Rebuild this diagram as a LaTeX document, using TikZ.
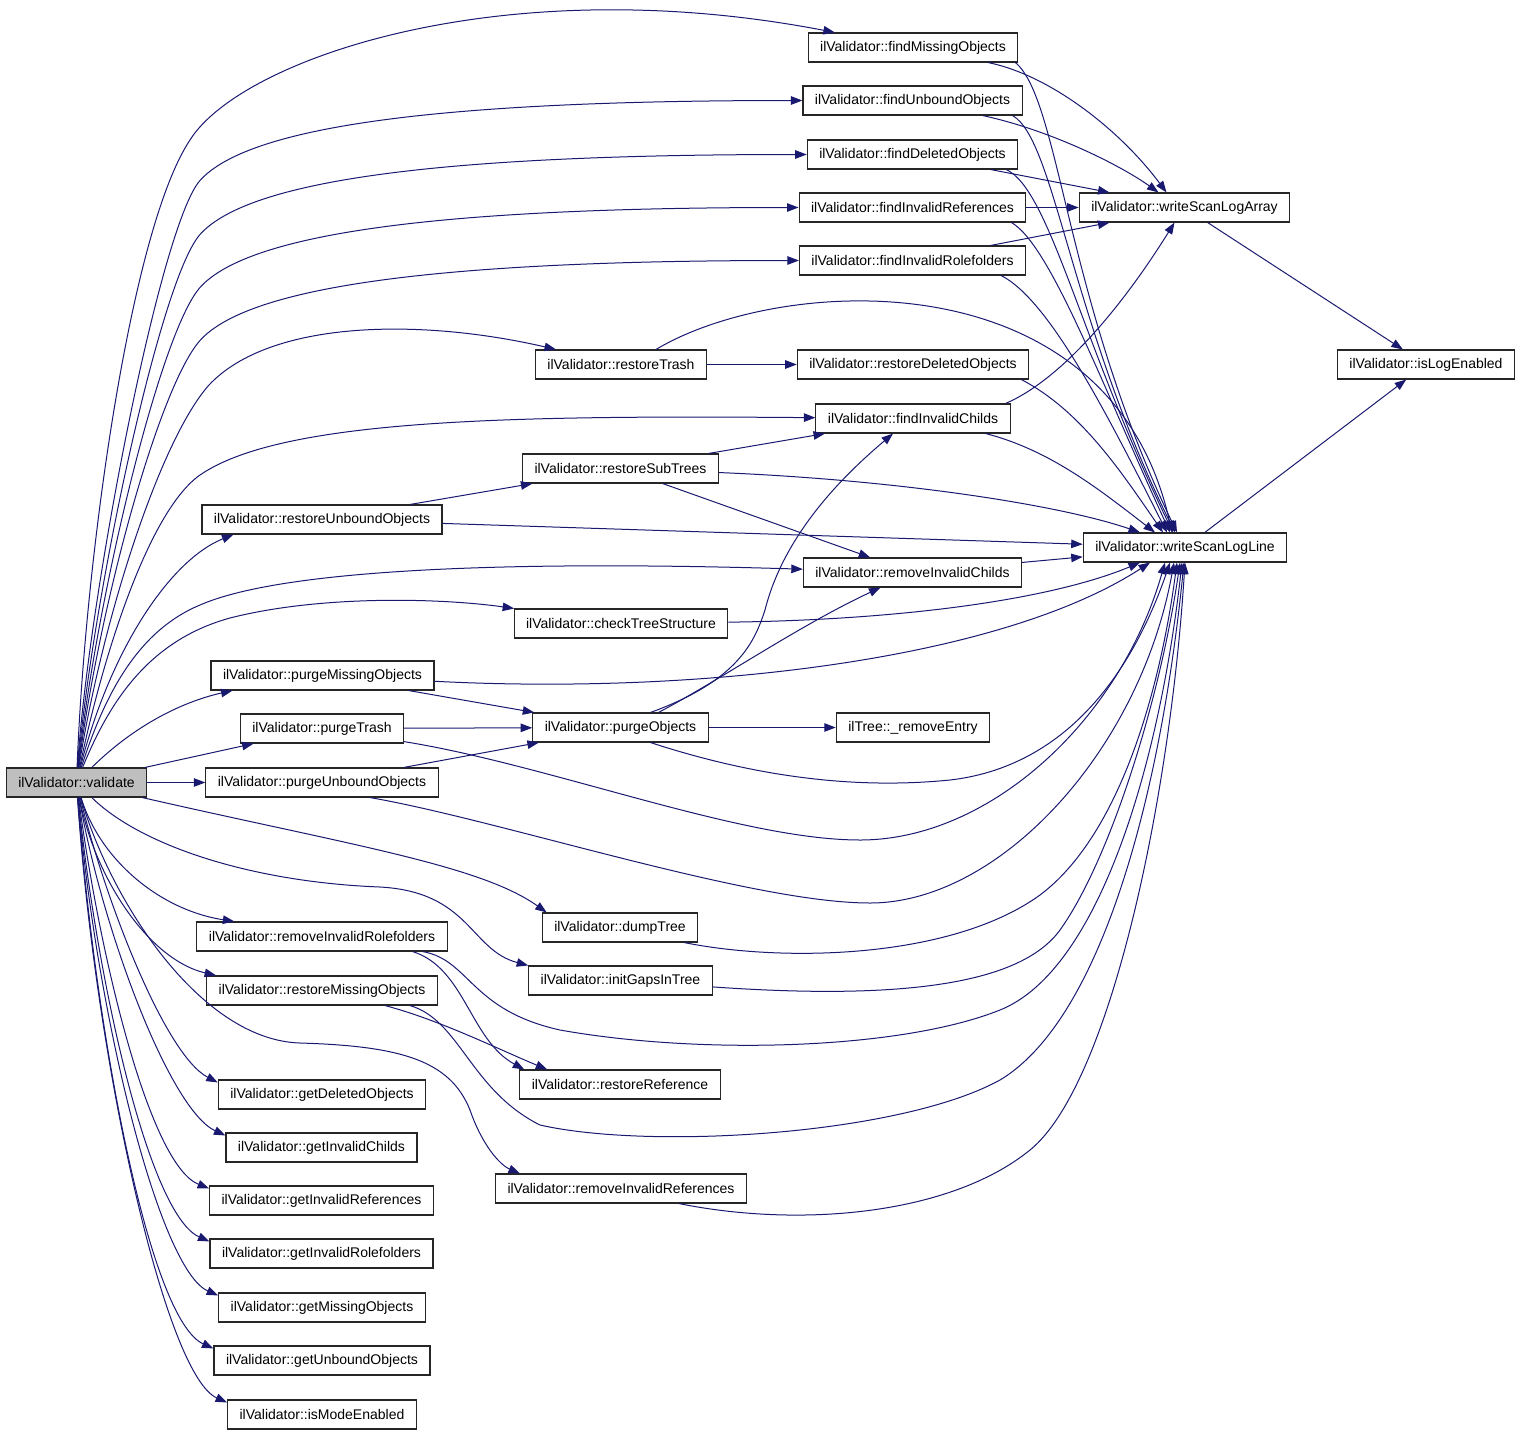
\documentclass[tikz,border=0pt]{standalone}
\usepackage{fontspec}
\setmainfont{Liberation Sans}
\usetikzlibrary{arrows.meta}
\definecolor{edgeblue}{HTML}{191970}
\definecolor{valgray}{HTML}{BFBFBF}
\tikzset{
  box/.style={draw=black!85, line width=1.1pt, fill=white, minimum height=29pt,
    inner xsep=12pt, inner ysep=0pt, font=\fontsize{14}{16}\selectfont},
  call/.style={draw=edgeblue, line width=1pt, -{Triangle[length=11.5pt,width=8.5pt]}},
}

\begin{document}
\begin{tikzpicture}[x=1pt,y=-1pt]
\useasboundingbox (0,0) rectangle (1520,1435);
\node[box, fill=valgray] (val) at (76.5,782.5) {ilValidator::validate};
\foreach \nm/\lbl/\x/\y in {
    fmo/findMissingObjects/913/47.5, fuo/findUnboundObjects/912.5/100.5,
    fdo/findDeletedObjects/912.5/154.5, fir/findInvalidReferences/912.5/207.5,
    firf/findInvalidRolefolders/912.5/260.5, wsla/writeScanLogArray/1184.5/207.5,
    ile/isLogEnabled/1426/364.5, rtr/restoreTrash/621/364.5,
    rdo/restoreDeletedObjects/913/364.5, fic/findInvalidChilds/913/418.5,
    rst/restoreSubTrees/620.5/468.5, ruo/restoreUnboundObjects/322/519.5,
    wsll/writeScanLogLine/1185/547.5, ric/removeInvalidChilds/912.5/572.5,
    cts/checkTreeStructure/621/623.5, pmo/purgeMissingObjects/322.5/675.5,
    ptr/purgeTrash/322/728.5, po/purgeObjects/620.5/727.5,
    puo/purgeUnboundObjects/322/782.5, dump/dumpTree/620/927.5,
    rirf/removeInvalidRolefolders/322/936.5, igt/initGapsInTree/620.5/980.5,
    rmo/restoreMissingObjects/322/990.5, rr/restoreReference/620/1084.5,
    gdo/getDeletedObjects/322/1094.5, gic/getInvalidChilds/321.5/1147.5,
    rir/removeInvalidReferences/621/1188.5, gir/getInvalidReferences/321.5/1200.5,
    girf/getInvalidRolefolders/321.5/1253.5, gmo/getMissingObjects/322/1307.5,
    guo/getUnboundObjects/322/1360.5, ime/isModeEnabled/322/1414.5}
  \node[box] (\nm) at (\x,\y) {ilValidator::\lbl};
\node[box] (tre) at (913,727.5) {ilTree::\_removeEntry};

\draw[call] (val) .. controls (85,560) and (130,230) .. (190,140) .. controls (240,60) and (500,-32) .. (fmo);
\foreach \nm/\ty/\cx in {fuo/100.5/88, fdo/154.5/92, fir/207.5/96, firf/260.5/100}
  \draw[call] (val) .. controls (\cx,600) and (160,\ty+125) .. (200,\ty+80) .. controls (250,\ty+24) and (450,\ty) .. (\nm);
\draw[call] (val) .. controls (102,620) and (160,440) .. (209,385) .. controls (270,320) and (420,318) .. (rtr);
\draw[call] (val) .. controls (104,650) and (150,510) .. (200,475) .. controls (280,420) and (500,415) .. (fic);
\draw[call] (val) .. controls (110,650) and (170,560) .. ([xshift=32pt]ruo.south west);
\draw[call] (val) .. controls (106,690) and (140,630) .. (200,605) .. controls (280,570) and (500,560) .. (ric);
\draw[call] (val) .. controls (110,700) and (150,640) .. (230,618) .. controls (320,595) and (440,598) .. (cts);
\draw[call] (val) .. controls (140,720) and (190,700) .. ([xshift=22pt]pmo.south west);
\draw[call] (val) -- (ptr);
\draw[call] (val) -- (puo);
\draw[call] (val) .. controls (350,845) and (480,865) .. ([xshift=5pt]dump.north west);
\draw[call] (val) .. controls (100,860) and (160,910) .. ([xshift=38pt]rirf.north west);
\draw[call] (val) .. controls (140,845) and (250,882) .. (380,887) .. controls (470,892) and (470,950) .. (igt.north west);
\draw[call] (val) .. controls (95,880) and (150,960) .. ([xshift=10pt]rmo.north west);
\draw[call] (val) .. controls (110,900) and (200,1040) .. (300,1043) .. controls (400,1046) and (450,1060) .. (470,1110) .. controls (482,1145) and (500,1165) .. ([xshift=25pt]rir.north west);
\foreach \nm/\ax/\ay/\bx/\by in {gdo/105/900/165/1055, gic/102/930/170/1110, gir/100/960/150/1165,
    girf/98/990/150/1215, gmo/97/1020/160/1270, guo/96/1040/150/1320, ime/95/1060/165/1375}
  \draw[call] (val) .. controls (\ax,\ay) and (\bx,\by) .. ([yshift=-3pt]\nm.north west);

\draw[call] (fmo) .. controls (1050,75) and (1120,130) .. ([xshift=-18pt]wsla.north);
\draw[call] (fuo) .. controls (1050,130) and (1120,165) .. ([xshift=-26pt]wsla.north);
\draw[call] (fdo) -- ([xshift=-75pt]wsla.north);
\draw[call] (fir) -- (wsla);
\draw[call] (firf) -- ([xshift=-75pt]wsla.south);
\draw[call] ([xshift=-5pt]fic.north east) .. controls (1060,380) and (1120,310) .. ([xshift=-10pt]wsla.south);

\draw[call] ([xshift=-3pt]fmo.south east) .. controls (1060,100) and (1065,300) .. ([xshift=-8pt]wsll.north);
\draw[call] ([xshift=-10pt]fuo.south east) .. controls (1055,140) and (1070,320) .. ([xshift=-10pt]wsll.north);
\draw[call] ([xshift=-12pt]fdo.south east) .. controls (1050,190) and (1080,340) .. ([xshift=-12pt]wsll.north);
\draw[call] ([xshift=-15pt]fir.south east) .. controls (1050,245) and (1100,380) .. ([xshift=-15pt]wsll.north);
\draw[call] ([xshift=-25pt]firf.south east) .. controls (1050,300) and (1110,420) .. ([xshift=-18pt]wsll.north);
\draw[call] ([xshift=-8pt]rdo.south east) .. controls (1080,410) and (1120,470) .. ([xshift=-22pt]wsll.north);
\draw[call] ([xshift=-25pt]fic.south east) .. controls (1050,450) and (1100,490) .. ([xshift=-30pt]wsll.north);
\draw[call] ([xshift=35pt]rtr.north) .. controls (780,275) and (1110,255) .. ([xshift=-13pt]wsll.north);
\draw[call] (rst) .. controls (900,480) and (1060,505) .. ([xshift=-45pt]wsll.north);
\draw[call] (ruo) -- (wsll);
\draw[call] (ric) -- (wsll);
\draw[call] (cts) .. controls (900,620) and (1050,600) .. ([xshift=-45pt]wsll.south);
\draw[call] (pmo) .. controls (700,695) and (1000,660) .. ([xshift=-35pt]wsll.south);
\draw[call] (ptr) .. controls (550,765) and (740,840) .. (860,840) .. controls (990,840) and (1120,720) .. ([xshift=-20pt]wsll.south);
\draw[call] ([xshift=30pt]po.south) .. controls (750,775) and (850,790) .. (950,780) .. controls (1080,765) and (1140,650) .. ([xshift=-15pt]wsll.south);
\draw[call] ([xshift=48pt]puo.south) .. controls (500,820) and (750,903) .. (870,903) .. controls (1000,903) and (1140,750) .. ([xshift=-11pt]wsll.south);
\draw[call] ([xshift=-14pt]dump.south east) .. controls (780,962) and (950,960) .. (1040,895) .. controls (1120,835) and (1160,690) .. ([xshift=-8pt]wsll.south);
\draw[call] (igt) .. controls (900,1000) and (1020,985) .. (1060,930) .. controls (1110,860) and (1160,700) .. ([xshift=-5pt]wsll.south);
\draw[call] ([xshift=-25pt]rirf.south east) .. controls (470,960) and (470,1010) .. (560,1030) .. controls (700,1055) and (900,1050) .. (1000,1010) .. controls (1100,970) and (1160,760) .. ([xshift=-3pt]wsll.south);
\draw[call] ([xshift=-28pt]rmo.south east) .. controls (460,1020) and (470,1090) .. (540,1125) .. controls (650,1150) and (900,1135) .. (1000,1080) .. controls (1100,1020) and (1160,800) .. ([xshift=-1pt]wsll.south);
\draw[call] ([xshift=58pt]rir.south) .. controls (800,1228) and (950,1215) .. (1030,1150) .. controls (1110,1085) and (1170,800) .. (wsll.south);

\draw[call] ([xshift=-35pt]rirf.south east) .. controls (465,968) and (470,1040) .. ([xshift=5pt]rr.north west);
\draw[call] ([xshift=63pt]rmo.south) .. controls (440,1020) and (500,1050) .. ([xshift=28pt]rr.north west);
\draw[call] (rtr) -- (rdo);
\draw[call] (rst) -- (fic);
\draw[call] (rst) -- (ric);
\draw[call] (ruo) -- (rst);
\draw[call] ([xshift=30pt]po.north) .. controls (740,680) and (755,640) .. (765,610) .. controls (785,530) and (850,470) .. ([xshift=-20pt]fic.south);
\draw[call] ([xshift=38pt]po.north) .. controls (720,680) and (800,625) .. ([xshift=-32pt]ric.south);
\draw[call] (pmo) -- (po);
\draw[call] (ptr) -- (po);
\draw[call] (puo) -- (po);
\draw[call] (po) -- (tre);
\draw[call] (wsla) -- (ile);
\draw[call] (wsll) -- (ile);
\end{tikzpicture}
\end{document}
